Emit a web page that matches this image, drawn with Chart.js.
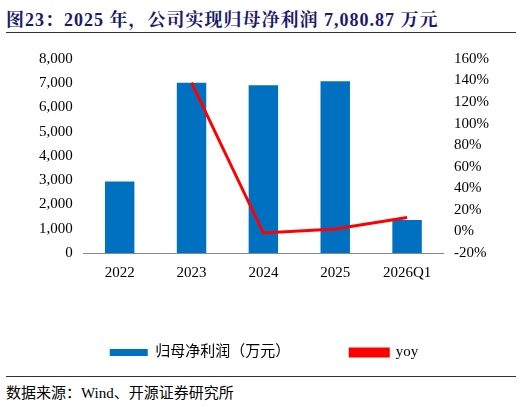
<!DOCTYPE html>
<html><head><meta charset="utf-8">
<script src="https://cdn.jsdelivr.net/npm/chart.js@4"></script>
<style>
body{margin:0;width:522px;height:407px;background:#fff;font-family:"Liberation Serif","Noto Sans CJK SC",serif;position:relative;overflow:hidden}
#title{position:absolute;left:6px;top:5px;font-size:18px;letter-spacing:1px;font-weight:bold;color:#1b1b6b;font-family:"Liberation Serif","Noto Serif CJK SC","Noto Sans CJK SC",serif}
#l1{position:absolute;left:6px;right:6px;top:32px;border-top:1px solid #333}
#l2{position:absolute;left:6px;right:6px;top:376px;border-top:1px solid #333}
#src{position:absolute;left:6px;top:381px;font-size:15px;color:#000}
#wrap{position:absolute;left:0;top:44px;width:522px;height:326px}
</style></head><body>
<div id="title">图23：2025 年，公司实现归母净利润 7,080.87 万元</div>
<div id="l1"></div>
<div id="wrap"><canvas id="c"></canvas></div>
<div id="l2"></div>
<div id="src">数据来源：Wind、开源证券研究所</div>
<script>
const categories = ['2022', '2023', '2024', '2025', '2026Q1'];
const profit = [2950, 7020, 6920, 7081, 1360];
const yoy = [null, 138, -1.5, 2.3, 13];

const font = { family: '"Liberation Serif","Noto Sans CJK SC",serif', size: 15 };
new Chart(document.getElementById('c'), {
    data: {
        labels: categories,
        datasets: [
            { type: 'line', label: 'yoy', data: yoy, yAxisID: 'y1', borderColor: '#ff0000', backgroundColor: '#ff0000', borderWidth: 3, pointRadius: 0, order: 0 },
            { type: 'bar', label: '归母净利润（万元）', data: profit, yAxisID: 'y', backgroundColor: '#0070c0', barPercentage: 0.41, categoryPercentage: 1, order: 1 }
        ]
    },
    options: {
        responsive: true,
        maintainAspectRatio: false,
        animation: false,
        layout: { padding: { left: 36, right: 30, top: 15 } },
        scales: {
            x: { grid: { display: false }, border: { color: '#888' }, ticks: { color: '#000', font: font } },
            y: { min: 0, max: 8000, ticks: { stepSize: 1000, color: '#000', font: font, callback: v => v.toLocaleString('en-US') }, grid: { display: false }, border: { display: false } },
            y1: { position: 'right', min: -20, max: 160, ticks: { stepSize: 20, color: '#000', font: font, callback: v => v + '%' }, grid: { display: false }, border: { display: false } }
        },
        plugins: {
            legend: {
                position: 'bottom', reverse: true,
                labels: { color: '#000', font: font, boxWidth: 38, boxHeight: 7, padding: 60 }
            },
            tooltip: { enabled: false }
        }
    }
});
</script>
</body></html>
